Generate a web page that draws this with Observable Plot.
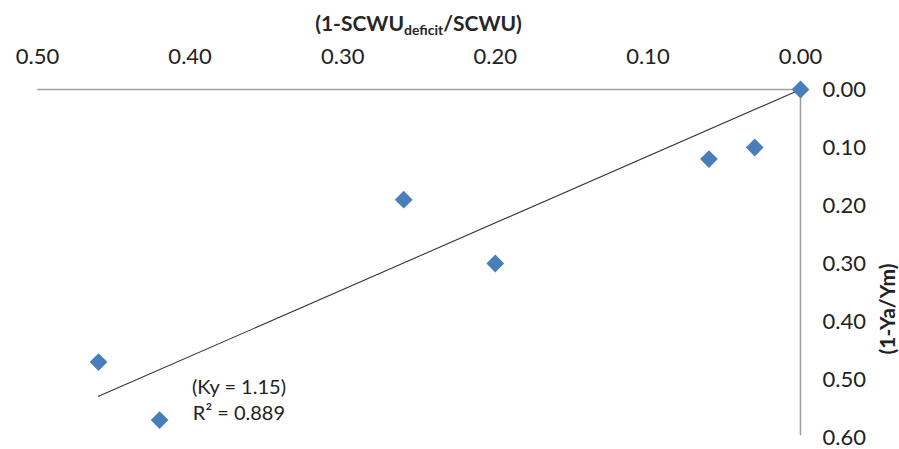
<!DOCTYPE html>
<html>
<head>
<meta charset="utf-8">
<script src="https://cdn.jsdelivr.net/npm/d3@7"></script>
<script src="https://cdn.jsdelivr.net/npm/@observablehq/plot@0.6"></script>
<style>
  html, body { margin: 0; padding: 0; background: #fff; }
  #wrap { width: 899px; height: 449px; overflow: hidden; font-family: Lato, "Liberation Sans", sans-serif; }
  .title { box-sizing: border-box; width: 899px; height: 40px; padding-left: 37px; padding-right: 99px;
           text-align: center; font-weight: bold; font-size: 21px; line-height: 46px; color: #262626; }
  .title sub { font-size: 14px; vertical-align: -4px; line-height: 0; }
</style>
</head>
<body>
<div id="wrap">
  <div class="title">(1-SCWU<sub>deficit</sub>/SCWU)</div>
  <div id="chart"></div>
</div>
<script>
// Data
const deficitRatio = [0, 0.03, 0.06, 0.26, 0.20, 0.46, 0.42];   // (1-SCWU_deficit/SCWU)
const yieldLoss    = [0, 0.10, 0.12, 0.19, 0.30, 0.47, 0.57];   // (1-Ya/Ym)
const xTicks = [0.5, 0.4, 0.3, 0.2, 0.1, 0.0];
const yTicks = [0.0, 0.1, 0.2, 0.3, 0.4, 0.5, 0.6];
const ky = 1.15;
const r2 = 0.889;

const points = deficitRatio.map((x, i) => ({x, y: yieldLoss[i]}));
const xMax = d3.max(deficitRatio);
const trend = [0, xMax].map(x => ({x, y: ky * x}));

const chart = Plot.plot({
  width: 899,
  height: 409,
  marginLeft: 37,
  marginRight: 99,
  marginTop: 49,
  marginBottom: 12,
  style: {fontFamily: "Lato, 'Liberation Sans', sans-serif", fontSize: "22px", color: "#222", background: "#fff"},
  x: {domain: [0.5, 0], ticks: xTicks, tickFormat: d3.format(".2f")},
  y: {domain: [0, 0.6], reverse: true, ticks: yTicks, tickFormat: d3.format(".2f")},
  marks: [
    Plot.axisX({anchor: "top", ticks: xTicks, tickFormat: d3.format(".2f"), tickSize: 0, tickPadding: 26, label: null, fontSize: 22}),
    Plot.axisY({anchor: "right", ticks: yTicks, tickFormat: d3.format(".2f"), tickSize: 0, tickPadding: 22, label: null, fontSize: 22}),
    Plot.ruleY([0], {x1: 0.5, x2: 0, stroke: "#a0a0a0", strokeWidth: 1.6}),
    Plot.ruleX([0], {y1: 0, y2: 0.597, stroke: "#a0a0a0", strokeWidth: 1.6}),
    Plot.line(trend, {x: "x", y: "y", stroke: "#333", strokeWidth: 1.1}),
    Plot.dot(points, {x: "x", y: "y", symbol: "diamond2", r: 8, fill: "#4a7ebb", stroke: "none"}),
    Plot.text([`(Ky = ${ky.toFixed(2)})\nR\u00b2 = ${r2.toFixed(3)}`], {
      x: 0.368, y: 0.533, text: d => d, textAnchor: "middle", lineHeight: 1.3, fontSize: 20, fill: "#222"
    }),
    Plot.text(["(1-Ya/Ym)"], {frameAnchor: "right", rotate: -90, dx: 88, fontWeight: "bold", fontSize: 21, fill: "#222"})
  ]
});
document.getElementById("chart").appendChild(chart);
</script>
</body>
</html>
